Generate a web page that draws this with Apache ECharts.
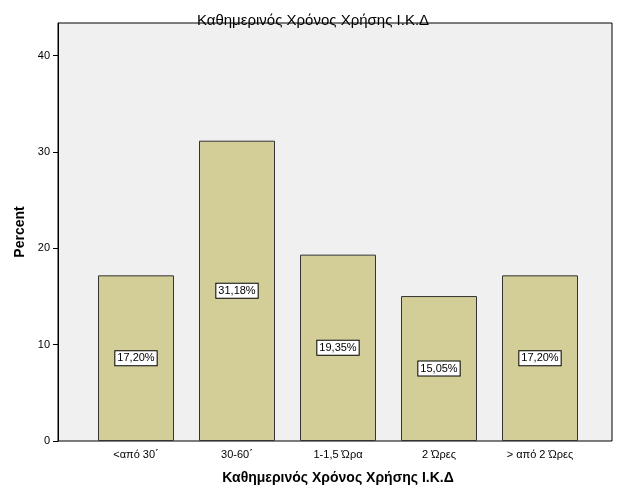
<!DOCTYPE html>
<html><head><meta charset="utf-8">
<script src="https://cdn.jsdelivr.net/npm/echarts@6/dist/echarts.min.js"></script>
<style>html,body{margin:0;background:#fff}#c{width:626px;height:501px}</style>
</head><body><div id="c"></div>
<script>
const categories = ['<από 30΄','30-60΄','1-1,5 Ώρα','2 Ώρες','> από 2 Ώρες'];
const values = [17.20, 31.18, 19.35, 15.05, 17.20];
const labels = ['17,20%','31,18%','19,35%','15,05%','17,20%'];
const title = 'Καθημερινός Χρόνος Χρήσης Ι.Κ.Δ';
const chart = echarts.init(document.getElementById('c'));
const F = 'Liberation Sans, Arial, sans-serif';
chart.setOption({
  animation:false,
  title:{text:title,left:'center',top:8,textStyle:{fontFamily:F,fontSize:15,fontWeight:'normal',color:'#000'}},
  graphic:[{type:'rect',shape:{x:58,y:23,width:554,height:418},style:{fill:'#f0f0f0',stroke:'#000',lineWidth:1},z:-10,silent:true}],
  grid:{left:85.5,right:35.5,top:23,bottom:60},
  xAxis:{type:'category',data:categories,name:title,nameLocation:'middle',nameGap:30,
    nameTextStyle:{fontFamily:F,fontSize:14,fontWeight:'bold',color:'#000'},
    axisLine:{show:false},axisTick:{alignWithLabel:true,length:5,lineStyle:{color:'#000'}},
    axisLabel:{fontFamily:F,fontSize:11,color:'#000',margin:8}},
  yAxis:{type:'value',min:0,max:43.4,interval:10,offset:27.5,name:'Percent',nameLocation:'middle',nameGap:30,
    nameTextStyle:{fontFamily:F,fontSize:14,fontWeight:'bold',color:'#000'},
    axisLine:{show:true,lineStyle:{color:'#000'}},axisTick:{show:true,length:5,lineStyle:{color:'#000'}},
    splitLine:{show:false},
    axisLabel:{fontFamily:F,fontSize:11,color:'#000',showMaxLabel:false,formatter:v=>v%10===0?v:''}},
  series:[{type:'bar',data:values,barWidth:76,
    itemStyle:{color:'#d3ce97',borderColor:'#333',borderWidth:1},
    label:{show:true,position:'inside',formatter:p=>labels[p.dataIndex],fontFamily:F,fontSize:11,color:'#000',
      backgroundColor:'#fff',borderColor:'#000',borderWidth:1,padding:[2,2,1,2]}}]
});
</script></body></html>
